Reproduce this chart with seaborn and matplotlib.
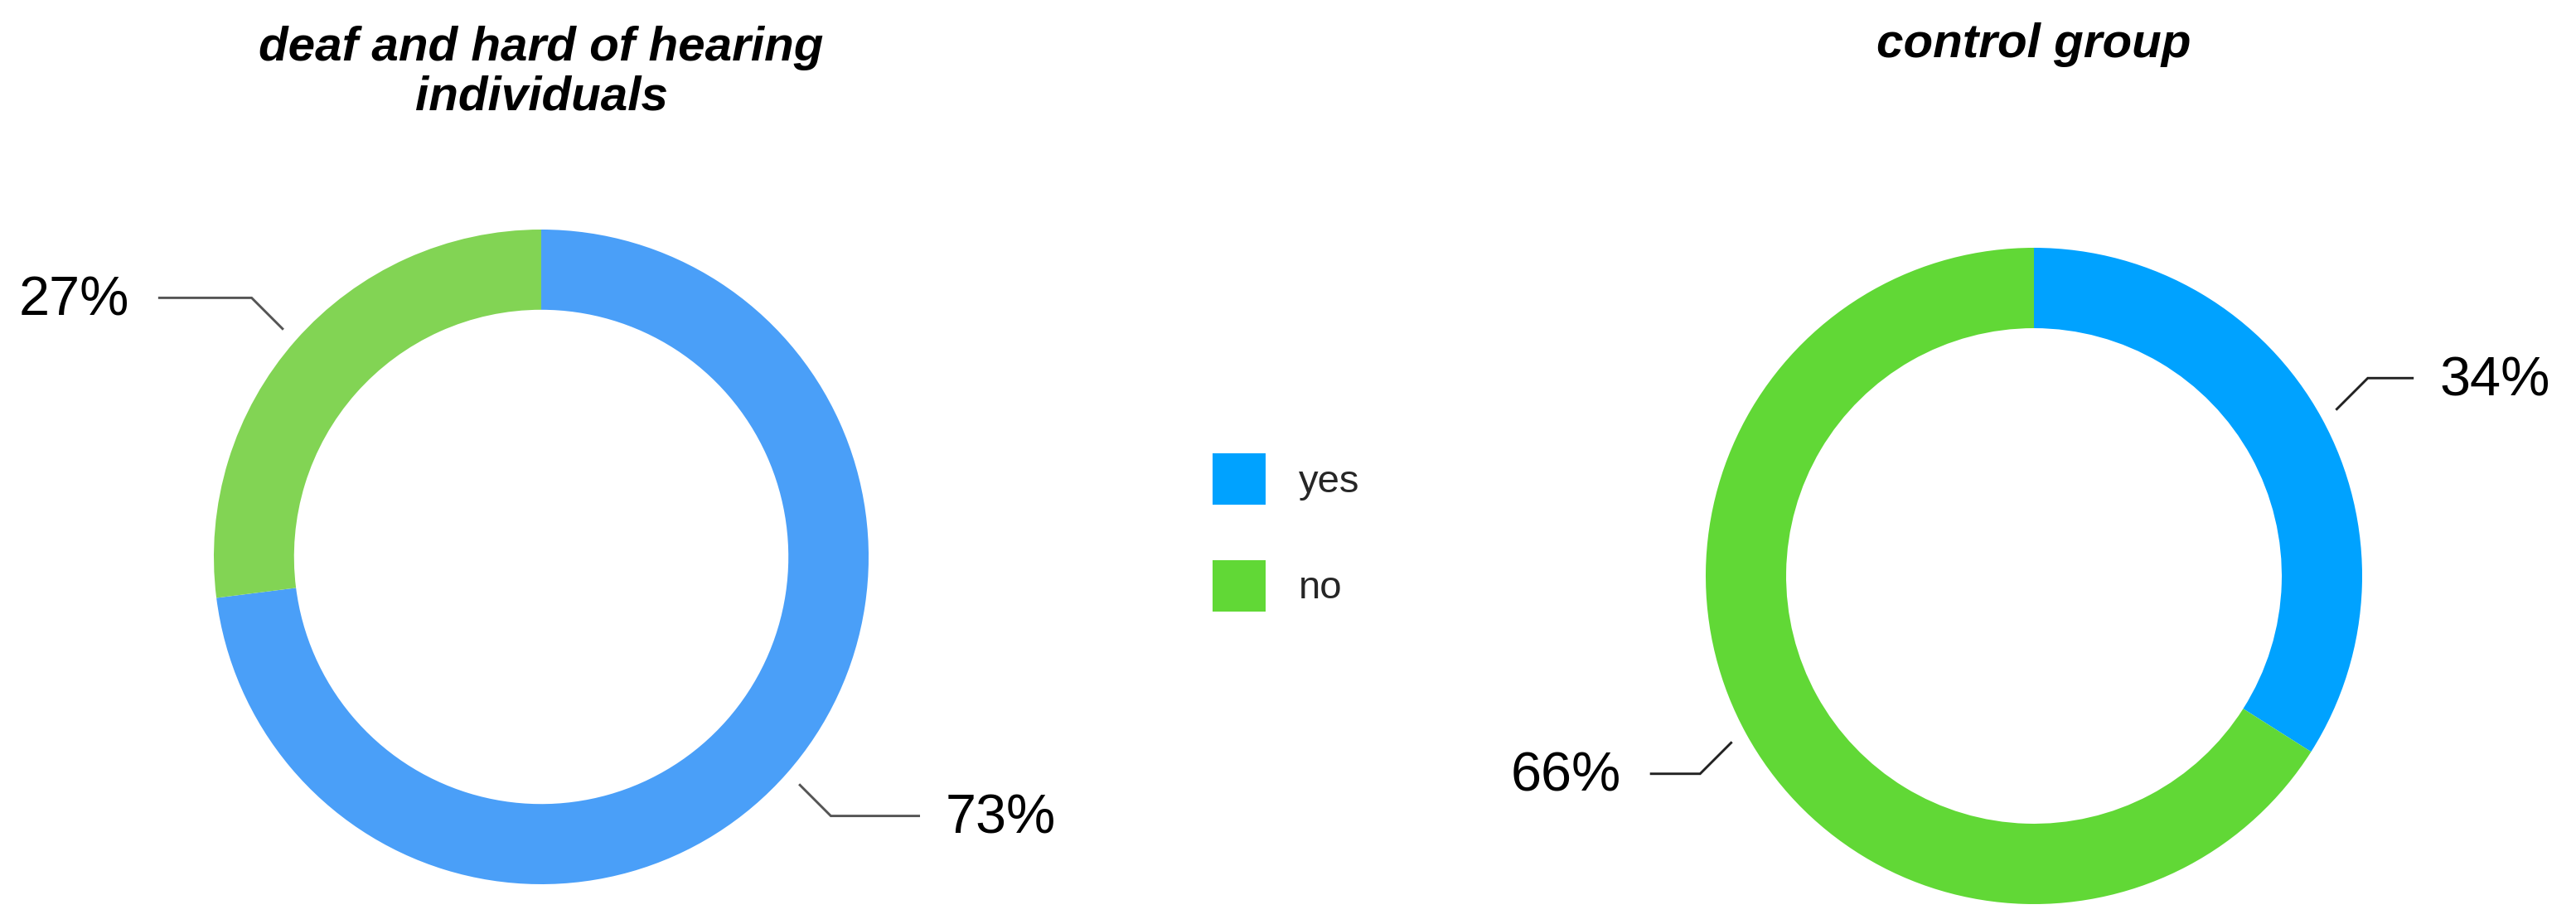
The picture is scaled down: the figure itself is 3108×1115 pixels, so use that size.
import numpy as np
import matplotlib
matplotlib.use('Agg')
import matplotlib.pyplot as plt
import seaborn as sns
from matplotlib import font_manager

# ---- data ----
categories = ['yes', 'no']
deaf_values = [73, 27]
control_values = [34, 66]
deaf_labels = ['73%', '27%']
control_labels = ['34%', '66%']
titles = ['deaf and hard of hearing\nindividuals', 'control group']
deaf_colors = ['#4A9FF8', '#82D454']
control_colors = ['#00A2FF', '#61D836']

sns.set_theme(style='white')
names = {f.name for f in font_manager.fontManager.ttflist}
title_family = 'Liberation Sans Narrow' if 'Liberation Sans Narrow' in names else 'Liberation Sans'
plt.rcParams['font.family'] = ['Liberation Sans', 'DejaVu Sans']

W, H = 3108, 1115
fig = plt.figure(figsize=(W / 100, H / 100), dpi=100)
fig.patch.set_facecolor('white')
L = 1.35


def add_donut(cx, cy, R, values, colors, labels, title, title_y, line_color):
    S = 2 * L * R
    ax = fig.add_axes([(cx - S / 2) / W, (H - cy - S / 2) / H, S / W, S / H])
    wedges, _ = ax.pie(values, colors=colors, startangle=90, counterclock=False,
                       radius=1, wedgeprops=dict(width=0.245, linewidth=0))
    ax.set_xlim(-L, L)
    ax.set_ylim(-L, L)
    ax.set_aspect('equal')
    ax.axis('off')
    for w, lab in zip(wedges, labels):
        ang = np.deg2rad((w.theta1 + w.theta2) / 2)
        c, s = np.cos(ang), np.sin(ang)
        sx = 1 if c >= 0 else -1
        sy = 1 if s >= 0 else -1
        p0 = (1.05 * c, 1.05 * s)
        d = 0.097
        p1 = (p0[0] + sx * d, p0[1] + sy * d)
        end_x = 1.157 if sx > 0 else -1.17
        text_x = 1.235 if sx > 0 else -1.258
        ax.plot([p0[0], p1[0], end_x], [p0[1], p1[1], p1[1]], color=line_color,
                lw=2.1, solid_capstyle='butt', solid_joinstyle='miter', clip_on=False)
        ax.text(text_x, p1[1] - 0.01, lab, ha='left' if sx > 0 else 'right',
                va='center', fontsize=48, color='black', clip_on=False)
    fig.text(cx / W, 1 - title_y / H, title, ha='center', va='center', fontsize=42,
             fontweight='bold', fontstyle='italic', family=title_family,
             linespacing=1.12, color='black')
    return ax, wedges


ax1, w1 = add_donut(653, 672, 395, deaf_values, deaf_colors, deaf_labels,
                    titles[0], 88, '#555555')
ax2, w2 = add_donut(2454, 695, 396, control_values, control_colors, control_labels,
                    titles[1], 54, '#222222')

fs_leg = 34
fig.legend(handles=w2, labels=categories, loc='upper left',
           bbox_to_anchor=(1463 / W, 1 - 547 / H), frameon=False,
           fontsize=fs_leg, handlelength=1.36, handleheight=1.65,
           labelspacing=1.41, handletextpad=0.85, borderpad=0, borderaxespad=0)

fig.savefig('out.png', dpi=100, facecolor='white')
